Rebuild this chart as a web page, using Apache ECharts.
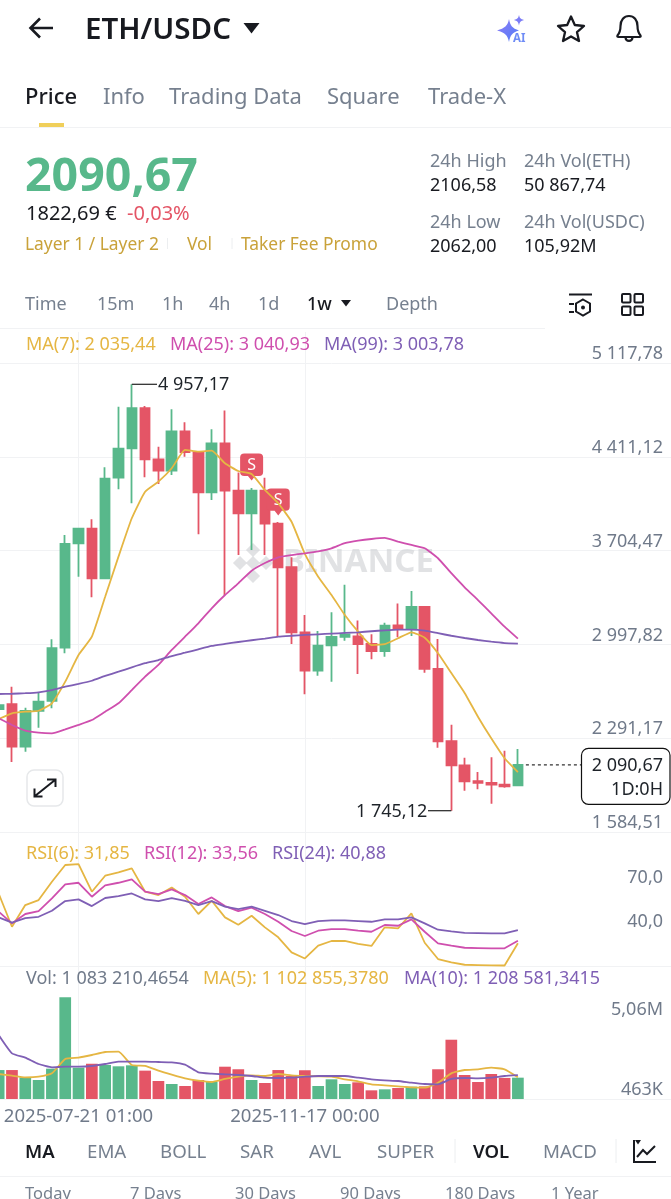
<!DOCTYPE html>
<html>
<head>
<meta charset="utf-8">
<title>ETH/USDC</title>
<script src="https://cdn.jsdelivr.net/npm/echarts@6/dist/echarts.min.js"></script>
<style>
html,body{margin:0;padding:0;background:#fff;overflow:hidden;}
#page{position:relative;width:671px;height:1199px;overflow:hidden;font-family:"Noto Sans",sans-serif;}
#chart{position:absolute;left:-8px;top:0;width:679px;height:1199px;}
#icons{position:absolute;left:0;top:0;}
.t{position:absolute;white-space:nowrap;line-height:1;transform:translateY(-50%);}
.line{position:absolute;background:#f1f2f4;height:1px;}
</style>
</head>
<body>
<div id="page">
    <div id="chart"></div>
    <svg id="icons" width="671" height="1199" viewBox="0 0 671 1199" fill="none">
        <path d="M53 28H31M40 18.5L30.500 28L40 37.500" stroke="#181a20" stroke-width="2.600"/>
        <path d="M243.500 23H259.500L251.500 33.500Z" fill="#181a20"/>
        <defs><linearGradient id="ai" x1="0" y1="0" x2="1" y2="1"><stop offset="0" stop-color="#8f7cf6"/><stop offset="1" stop-color="#4f7cf7"/></linearGradient></defs>
        <path d="M509 19C510.500 26 512 28 519 30.500C512 32.500 510.500 35 509 42C507.500 35 505 32.500 497 30.500C505 28 507.500 26 509 19Z" fill="url(#ai)"/>
        <path d="M519 15C519.700 18 520.500 19 524 20C520.500 21 519.700 22 519 25.500C518.300 22 517.500 21 514 20C517.500 19 518.300 18 519 15Z" fill="#7c7cf6"/>
        <text x="513" y="41.500" font-family="Noto Sans" font-size="11.500" font-weight="700" fill="#6f8cf6">AI</text>
        <path d="M571 16.500L574.800 25L584 26L577 32.200L579 41L571 36.400L563 41L565 32.200L558 26L567.200 25Z" stroke="#181a20" stroke-width="2.300" stroke-linejoin="round"/>
        <path d="M617.500 35.500C620 32.500 620.500 30 620.500 26C620.500 20 624 16 629 16C634 16 637.500 20 637.500 26C637.500 30 638 32.500 640.500 35.500C641 36.500 640.500 37 639.500 37H618.500C617.500 37 617 36.500 617.500 35.500Z" stroke="#181a20" stroke-width="2.200"/>
        <path d="M625.500 37.500C625.800 42 632.200 42 632.500 37.500" stroke="#181a20" stroke-width="2.200"/>
        <rect x="39" y="123" width="25" height="4.500" fill="#f0cf5a"/>
        <path d="M341 300H351L346 306.500Z" fill="#181a20"/>
        <path d="M569 294.500H592M569 304H574M569 312H574" stroke="#181a20" stroke-width="2"/>
        <path d="M583 299.500L590 303.500V311.500L583 315.500L576 311.500V303.500Z" stroke="#181a20" stroke-width="2" fill="#fff"/>
        <circle cx="583" cy="307.500" r="2" fill="#181a20"/>
        <rect x="622" y="294" width="8.500" height="8.500" rx="1" stroke="#181a20" stroke-width="2"/>
        <rect x="634.500" y="294" width="8.500" height="8.500" rx="1" stroke="#181a20" stroke-width="2"/>
        <rect x="622" y="306.500" width="8.500" height="8.500" rx="1" stroke="#181a20" stroke-width="2"/>
        <rect x="634.500" y="306.500" width="8.500" height="8.500" rx="1" stroke="#181a20" stroke-width="2"/>
        <rect x="27" y="770" width="36" height="36" rx="7" fill="#fff" stroke="#e6e8ea" stroke-width="1.500"/>
        <path d="M35 796L55 780M47 779.500H55.500V787M34.500 788.500V796.500H42.500" stroke="#181a20" stroke-width="2"/>
        <path d="M634 1140V1162H656" stroke="#181a20" stroke-width="2"/>
        <path d="M637 1157L643 1150L647 1154L655 1146" stroke="#181a20" stroke-width="2"/>
        <path d="M635 1140H641L638 1144.500Z" fill="#181a20"/>
        <path d="M455 1139V1163M616 1139V1163" stroke="#eceef0" stroke-width="1"/>
        <path d="M167.500 238V249M232 238V249" stroke="#eceef0" stroke-width="1"/>
    </svg>
</div>
<script>
// weekly candles
var categories = [
    '2025-06-09 01:00','2025-06-16 01:00','2025-06-23 01:00','2025-06-30 01:00','2025-07-07 01:00','2025-07-14 01:00',
    '2025-07-21 01:00','2025-07-28 01:00','2025-08-04 01:00','2025-08-11 01:00','2025-08-18 01:00','2025-08-25 01:00',
    '2025-09-01 01:00','2025-09-08 01:00','2025-09-15 01:00','2025-09-22 01:00','2025-09-29 01:00','2025-10-06 01:00',
    '2025-10-13 01:00','2025-10-20 01:00','2025-10-27 00:00','2025-11-03 00:00','2025-11-10 00:00','2025-11-17 00:00',
    '2025-11-24 00:00','2025-12-01 00:00','2025-12-08 00:00','2025-12-15 00:00','2025-12-22 00:00','2025-12-29 00:00',
    '2026-01-05 00:00','2026-01-12 00:00','2026-01-19 00:00','2026-01-26 00:00','2026-02-02 00:00','2026-02-09 00:00',
    '2026-02-16 00:00','2026-02-23 00:00','2026-03-02 00:00','2026-03-09 00:00',
    '','','','','','','','','','',''
];
var opens = [2511,2547,2227,2498,2572,2973,3760,3870,3496,4254,4475,4777,4392,4307,4603,4447,4144,4513,4156,3986,4156,3907,3579,3089,2800,2991,3054,3059,3001,2948,3141,3114,3280,2813,2268,2087,1967,1954,1941,1936];
var closes = [2541,2227,2496,2566,2969,3754,3870,3496,4246,4472,4777,4392,4307,4603,4447,4144,4513,4156,3986,4156,3907,3579,3089,2800,2988,3054,3074,3001,2948,3139,3114,3280,2813,2268,2087,1967,1954,1941,1929,2090.67];
var lows = [2458,2112,2190,2370,2516,2931,3508,3353,3493,4166,4061,4257,4206,4274,4412,3827,4086,3370,3671,3709,3671,3056,3001,2622,2762,2717,3026,2775,2886,2905,3051,3061,2785,2220,1745.12,1896,1906,1798,1918,1933];
var highs = [2617,2679,2521,2634,3036,3822,3877,3940,4332,4789,4957.17,4794,4487,4769,4671,4450,4618,4759,4292,4176,4254,3920,3654,3219,3099,3240,3448,3177,3074,3161,3305,3400,3283,3039,2393,2144,2037,2147,2197,2210];
var ma7 = [2436,2479,2491,2498,2554,2717,2918,3056,3357,3659,3948,4148,4224,4325,4463,4450,4457,4362,4304,4282,4161,4061,3922,3679,3508,3370,3219,3094,2993,2999,3044,3089,3048,2931,2782,2632,2453,2290,2140,2035.44];
var ma25 = [2441,2391,2348,2333,2328,2358,2391,2428,2491,2554,2654,2755,2843,2956,3056,3157,3270,3370,3458,3553,3611,3654,3671,3684,3699,3722,3760,3779,3792,3800,3772,3747,3722,3647,3534,3428,3332,3232,3131,3040.93];
var ma99 = [2624,2626,2630,2637,2654,2679,2700,2724,2760,2792,2825,2856,2880,2910,2935,2961,2986,3001,3016,3029,3041,3056,3063,3069,3074,3079,3084,3089,3097,3104,3109,3109,3101,3082,3063,3046,3031,3018,3008,3003.78];
var rsi6 = [65.8,43.1,57.9,61.3,73.8,85.2,85.8,67,77.9,80.2,82.9,67,64.7,69.9,63.6,51.8,60.8,49.5,44.5,50.6,42.7,35.9,25.6,21.5,30.2,33.4,33.4,31.5,30,42.7,42,52.2,32.2,21.1,18.8,17.2,17,16.8,16.7,31.85];
var rsi12 = [53.4,45.4,51.8,53.8,62.4,72,73.1,63.6,71.3,73.1,75.4,67,65.4,68.6,64.7,58.6,63.1,57.2,53.8,56.1,51.8,46.5,40.2,36.8,40.4,41.5,41.5,40.4,39.7,44.3,43.8,48.1,39.7,31.8,30.2,28.8,28.6,28.4,28.4,33.56];
var rsi24 = [49.5,45.9,49,49.9,54,60.6,61.8,57.2,62.7,64,65.8,61.8,60.6,62.7,60.8,57.9,60.6,56.8,55.2,56.8,54,51.1,47,44.9,47,47.4,47.4,47,46.5,48.1,48.1,49.5,45.4,41.1,39.9,39,38.8,38.6,38.6,40.88];
var volumes = [1470000,1470000,1100000,965000,1540000,5160000,1590000,1790000,1730000,1660000,1710000,1440000,914000,762000,660000,965000,863000,1640000,1510000,965000,812000,1470000,1170000,1460000,660000,999000,762000,846000,440000,491000,559000,626000,643000,1510000,3010000,1220000,863000,1270000,1070000,1083210.4654];
var volMa5 = [1269000,1185000,1100000,1134000,1303000,2031000,2099000,2234000,2386000,2403000,1726000,1676000,1439000,1236000,1049000,931000,863000,1016000,1134000,1202000,1168000,1269000,1202000,1168000,1151000,1134000,999000,897000,745000,694000,643000,592000,575000,829000,1303000,1472000,1506000,1591000,1506000,1102855.378];
var volMa10 = [3250000,2319000,2099000,1777000,1608000,1642000,1642000,1676000,1777000,1896000,1896000,1896000,1879000,1862000,1743000,1354000,1286000,1252000,1219000,1168000,1083000,1066000,1083000,1134000,1168000,1168000,1168000,1083000,999000,948000,914000,829000,762000,745000,1016000,1066000,1049000,1083000,1168000,1208581.3415];

var priceTicks = [1584.51,2291.17,2997.82,3704.47,4411.12,5117.78];
var priceTickLabels = ['1 584,51','2 291,17','2 997,82','3 704,47','4 411,12','5 117,78'];
var rsiTicks = [40,70];
var rsiTickLabels = ['40,0','70,0'];
var volTicks = [463000,5060000];
var volTickLabels = ['463K','{below|5,06M}'];
var dateTicks = [6,23];
var sellIndexes = [19,21];
var sellPrices = [4334,4071];

var GREEN = '#58b88b', RED = '#e45566', YELLOW = '#e5b643', PINK = '#cf4fae', PURPLE = '#7f5fb5';
var GRID_LINE = '#f1f2f4', AXIS_TEXT = '#707a8a', DARK = '#1e2329';
var FONT = 'Noto Sans';
// the canvas hangs 8px off the left edge so the first candle can be cut by the screen
var CHART_LEFT = 8;

var page = document.getElementById('page');
function addText(x, y, text, size, color, weight) {
    var el = document.createElement('div');
    el.className = 't';
    el.style.left = x + 'px';
    el.style.top = y + 'px';
    el.style.fontSize = size + 'px';
    el.style.color = color;
    el.style.fontWeight = weight || 400;
    el.textContent = text;
    page.appendChild(el);
}
function addLine(x, y, w) {
    var el = document.createElement('div');
    el.className = 'line';
    el.style.left = x + 'px';
    el.style.top = y + 'px';
    el.style.width = w + 'px';
    page.appendChild(el);
}

var GRAY = '#76808f', TAG = '#c9a23a';
addText(85, 28, 'ETH/USDC', 29.5, '#181a20', 600);
addText(25, 95, 'Price', 22, '#181a20', 500);
addText(103, 95, 'Info', 22, GRAY);
addText(169, 95, 'Trading Data', 22, GRAY);
addText(327, 95, 'Square', 22, GRAY);
addText(428, 95, 'Trade-X', 22, GRAY);
addLine(0, 127, 671);
addText(25, 173, '2090,67', 46.5, GREEN, 700);
addText(26, 213, '1822,69 €', 20, '#181a20');
addText(127, 213, '-0,03%', 20, RED);
addText(25, 244, 'Layer 1 / Layer 2', 17.4, TAG);
addText(187, 244, 'Vol', 17.4, TAG);
addText(241, 244, 'Taker Fee Promo', 17.4, TAG);
addText(430, 160, '24h High', 18, GRAY);
addText(430, 184, '2106,58', 18, '#181a20');
addText(524, 160, '24h Vol(ETH)', 18, GRAY);
addText(524, 184, '50 867,74', 18, '#181a20');
addText(430, 221, '24h Low', 18, GRAY);
addText(430, 245, '2062,00', 18, '#181a20');
addText(524, 221, '24h Vol(USDC)', 18, GRAY);
addText(524, 245, '105,92M', 18, '#181a20');
addText(25, 303, 'Time', 18, GRAY);
addText(97, 303, '15m', 18, GRAY);
addText(162, 303, '1h', 18, GRAY);
addText(209, 303, '4h', 18, GRAY);
addText(258, 303, '1d', 18, GRAY);
addText(307, 303, '1w', 18, '#181a20', 500);
addText(386, 303, 'Depth', 18, GRAY);
addLine(0, 328, 545);
addText(25, 1151, 'MA', 18.5, '#181a20', 600);
addText(87, 1151, 'EMA', 18.7, GRAY);
addText(160, 1151, 'BOLL', 18.7, GRAY);
addText(240, 1151, 'SAR', 18.7, GRAY);
addText(309, 1151, 'AVL', 18.7, GRAY);
addText(377, 1151, 'SUPER', 18.7, GRAY);
addText(473, 1151, 'VOL', 18.5, '#181a20', 600);
addText(543, 1151, 'MACD', 18.7, GRAY);
addLine(0, 1176, 671);
addText(25, 1193, 'Today', 16.5, GRAY);
addText(130, 1193, '7 Days', 16.5, GRAY);
addText(235, 1193, '30 Days', 16.5, GRAY);
addText(340, 1193, '90 Days', 16.5, GRAY);
addText(445, 1193, '180 Days', 16.5, GRAY);
addText(551, 1193, '1 Year', 16.5, GRAY);

function tickFormatter(ticks, labels) {
    return function (value) {
        var i = ticks.indexOf(value);
        return i >= 0 ? labels[i] : '';
    };
}
function makeXAxis(gridIndex, showLabel) {
    return {
        type: 'category',
        gridIndex: gridIndex,
        data: categories,
        axisLine: {show: true, lineStyle: {color: GRID_LINE, width: 1}},
        axisTick: {show: false, alignWithLabel: true, customValues: dateTicks},
        splitLine: {show: true, alignWithLabel: true, lineStyle: {color: GRID_LINE, width: 1}},
        axisLabel: {
            show: showLabel,
            customValues: dateTicks,
            color: AXIS_TEXT,
            fontFamily: FONT,
            fontSize: 18.6,
            margin: 8,
            hideOverlap: false
        },
        axisPointer: {show: false}
    };
}
function makeYAxis(gridIndex, min, max, ticks, labels, align) {
    return {
        type: 'value',
        gridIndex: gridIndex,
        position: 'right',
        scale: true,
        min: min,
        max: max,
        axisLine: {show: false},
        axisTick: {show: false, customValues: ticks},
        splitLine: {show: gridIndex === 0, lineStyle: {color: GRID_LINE, width: 1}},
        axisLabel: {
            inside: true,
            customValues: ticks,
            formatter: tickFormatter(ticks, labels),
            color: AXIS_TEXT,
            fontFamily: FONT,
            fontSize: 18,
            verticalAlign: align,
            margin: 8,
            rich: {below: {padding: [21, 0, 0, 0], color: AXIS_TEXT, fontFamily: FONT, fontSize: 18}}
        }
    };
}
function lineSeries(name, data, color, xy, smooth) {
    return {
        name: name,
        type: 'line',
        xAxisIndex: xy,
        yAxisIndex: xy,
        data: data,
        smooth: smooth,
        symbol: 'none',
        z: 4,
        lineStyle: {color: color, width: 1.800}
    };
}

var candles = opens.map(function (o, i) {
    return [o, closes[i], lows[i], highs[i]];
});
var volumeBars = volumes.map(function (v, i) {
    return {value: v, itemStyle: {color: closes[i] >= opens[i] ? GREEN : RED}};
});
var sellMarks = sellIndexes.map(function (idx, i) {
    return {coord: [idx, sellPrices[i]]};
});

var chart = echarts.init(document.getElementById('chart'), null, {renderer: 'canvas'});
chart.setOption({
    animation: false,
    backgroundColor: 'transparent',
    grid: [
        {left: 0, right: 0, top: 332, height: 500},
        {left: 0, right: 0, top: 832, height: 134},
        {left: 0, right: 0, top: 966, height: 133}
    ],
    xAxis: [makeXAxis(0, false), makeXAxis(1, false), makeXAxis(2, true)],
    yAxis: [
        makeYAxis(0, 1584.51, 5351.3, priceTicks, priceTickLabels, 'bottom'),
        makeYAxis(1, 16.35, 107.7, rsiTicks, rsiTickLabels, 'bottom'),
        makeYAxis(2, 0, 6753000, volTicks, volTickLabels, 'middle')
    ],
    series: [
        {
            name: 'ETH/USDC',
            type: 'candlestick',
            xAxisIndex: 0,
            yAxisIndex: 0,
            data: candles,
            barWidth: 10,
            z: 2,
            itemStyle: {color: GREEN, color0: RED, borderColor: GREEN, borderColor0: RED, borderWidth: 1.800},
            markPoint: {
                z: 3,
                symbol: 'path://M4 0H18Q22 0 22 4V18Q22 22 18 22H14.500L11 26.500L7.500 22H4Q0 22 0 18V4Q0 0 4 0Z',
                symbolSize: [23, 27],
                itemStyle: {color: RED},
                label: {show: true, formatter: 'S', color: '#fff', fontFamily: FONT, fontSize: 16, offset: [0, -2]},
                data: sellMarks
            }
        },
        lineSeries('MA(7)', ma7, YELLOW, 0, 0.15),
        lineSeries('MA(25)', ma25, PINK, 0, 0.15),
        lineSeries('MA(99)', ma99, PURPLE, 0, 0.15),
        lineSeries('RSI(6)', rsi6, YELLOW, 1, false),
        lineSeries('RSI(12)', rsi12, PINK, 1, false),
        lineSeries('RSI(24)', rsi24, PURPLE, 1, false),
        {
            name: 'Vol',
            type: 'bar',
            xAxisIndex: 2,
            yAxisIndex: 2,
            data: volumeBars,
            barWidth: 11.700,
            z: 2
        },
        lineSeries('MA(5)', volMa5, YELLOW, 2, 0.15),
        lineSeries('MA(10)', volMa10, PURPLE, 2, 0.15)
    ]
});

// legends, watermark and the high / low / last price notes sit on top of the scales
function label(x, y, text, color, size, extra) {
    var style = {text: text, x: 0, y: 0, fill: color, font: (size || 18) + 'px ' + FONT, textVerticalAlign: 'middle'};
    for (var k in extra) {
        style[k] = extra[k];
    }
    return {type: 'text', x: x + CHART_LEFT, y: y, style: style, z: 6};
}
function seg(x1, y1, x2, y2, color, dash) {
    return {
        type: 'line',
        shape: {x1: x1 + CHART_LEFT, y1: y1, x2: x2 + CHART_LEFT, y2: y2},
        style: {stroke: color, lineWidth: 1.300, lineDash: dash || null},
        z: 6
    };
}
function mark(cx, cy, r) {
    return {type: 'rect', x: cx + CHART_LEFT, y: cy, rotation: Math.PI / 4, z: 0, silent: true, shape: {x: -r, y: -r, width: 2 * r, height: 2 * r}, style: {fill: wmColor}};
}
function pagePoint(idx, value) {
    var p = chart.convertToPixel({gridIndex: 0}, [idx, value]);
    return [p[0] - CHART_LEFT, p[1]];
}
var highIdx = highs.indexOf(Math.max.apply(null, highs));
var lowIdx = lows.indexOf(Math.min.apply(null, lows));
var highPt = pagePoint(highIdx, highs[highIdx]);
var lowPt = pagePoint(lowIdx, lows[lowIdx]);
var lastPt = pagePoint(closes.length - 1, closes[closes.length - 1]);
var wmColor = 'rgba(205,207,210,0.6)';

chart.setOption({
    graphic: [
        label(26, 345, 'MA(7): 2 035,44', YELLOW),
        label(170, 345, 'MA(25): 3 040,93', PINK),
        label(324, 345, 'MA(99): 3 003,78', PURPLE),
        label(26, 854, 'RSI(6): 31,85', YELLOW),
        label(144, 854, 'RSI(12): 33,56', PINK),
        label(272, 854, 'RSI(24): 40,88', PURPLE),
        label(26, 979, 'Vol: 1 083 210,4654', AXIS_TEXT),
        label(203, 979, 'MA(5): 1 102 855,3780', YELLOW),
        label(404, 979, 'MA(10): 1 208 581,3415', PURPLE),
        {type: 'text', x: 283 + CHART_LEFT, y: 563, z: 0, silent: true, style: {text: 'BINANCE', x: 0, y: 0, fill: wmColor, font: 'bold 33px ' + FONT, textVerticalAlign: 'middle'}},
        mark(253, 550, 5),
        mark(253, 576, 5),
        mark(240, 563, 5),
        mark(266, 563, 5),
        mark(253, 563, 5),
        seg(highPt[0], highPt[1], 157, highPt[1], '#333'),
        label(158, highPt[1] + 1, '4 957,17', DARK),
        seg(lowPt[0], lowPt[1], 428, lowPt[1], '#333'),
        label(356, lowPt[1] + 1, '1 745,12', DARK),
        seg(lastPt[0] + 8, lastPt[1], 581, lastPt[1], '#333', [3, 3]),
        {type: 'rect', z: 6, shape: {x: 581.500 + CHART_LEFT, y: lastPt[1] - 16.500, width: 88.500, height: 56, r: 7}, style: {fill: '#fff', stroke: '#111', lineWidth: 1.200}},
        label(663, lastPt[1] + 1, '2 090,67', DARK, 18, {textAlign: 'right'}),
        label(663, lastPt[1] + 25, '1D:0H', DARK, 18, {textAlign: 'right'})
    ]
});
</script>
</body>
</html>
